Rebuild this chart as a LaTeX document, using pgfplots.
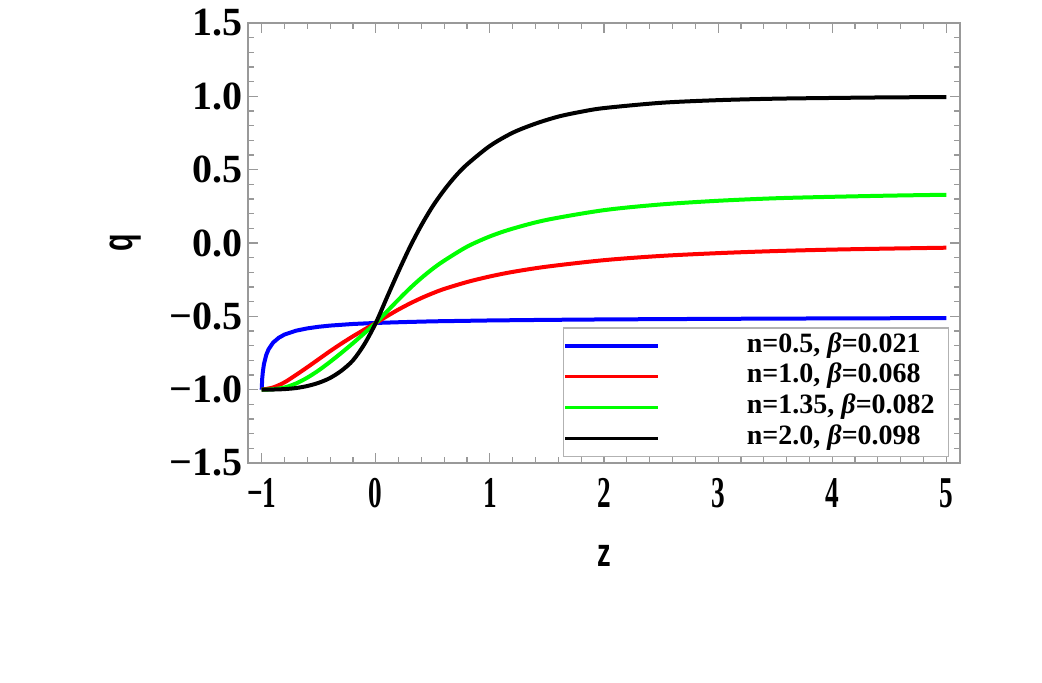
\documentclass[border=0pt]{standalone}
\usepackage{fontspec}
\setmainfont{Liberation Serif}
\newfontfamily\labelsans{Liberation Sans}
\usepackage{graphicx}
\usepackage{pgfplots}
\pgfplotsset{compat=1.18}

% deceleration parameter q(z) for the four (n, beta) cases
\pgfplotstableread{
z q
-1.000 -1.000
-0.995 -0.920
-0.990 -0.879
-0.980 -0.825
-0.960 -0.763
-0.940 -0.725
-0.900 -0.679
-0.850 -0.646
-0.800 -0.624
-0.700 -0.598
-0.600 -0.582
-0.500 -0.571
-0.400 -0.563
-0.200 -0.552
0.000 -0.545
0.250 -0.539
0.500 -0.534
1.000 -0.528
1.500 -0.524
2.000 -0.521
3.000 -0.517
4.000 -0.514
5.000 -0.512
}\qblue

\pgfplotstableread{
z q
-1.0 -1.000
-0.9 -0.985
-0.8 -0.950
-0.7 -0.900
-0.6 -0.847
-0.5 -0.792
-0.4 -0.737
-0.3 -0.685
-0.2 -0.636
-0.1 -0.590
0.0 -0.545
0.1 -0.498
0.2 -0.453
0.3 -0.412
0.4 -0.375
0.5 -0.342
0.6 -0.313
0.8 -0.266
1.0 -0.228
1.2 -0.197
1.5 -0.161
2.0 -0.117
2.5 -0.088
3.0 -0.069
3.5 -0.055
4.0 -0.045
4.5 -0.038
5.0 -0.032
}\qred

\pgfplotstableread{
z q
-1.0 -1.000
-0.9 -0.997
-0.8 -0.985
-0.7 -0.958
-0.6 -0.918
-0.5 -0.868
-0.4 -0.810
-0.3 -0.748
-0.2 -0.683
-0.1 -0.615
0.0 -0.545
0.1 -0.465
0.2 -0.385
0.3 -0.308
0.4 -0.238
0.5 -0.175
0.6 -0.120
0.8 -0.025
1.0 0.045
1.2 0.098
1.5 0.158
2.0 0.224
2.5 0.263
3.0 0.288
3.5 0.305
4.0 0.315
4.5 0.323
5.0 0.329
}\qgreen

\pgfplotstableread{
z q
-1.0 -1.000
-0.9 -0.999
-0.8 -0.996
-0.7 -0.989
-0.6 -0.975
-0.5 -0.953
-0.4 -0.920
-0.3 -0.870
-0.2 -0.800
-0.1 -0.690
0.0 -0.545
0.1 -0.367
0.2 -0.192
0.3 -0.026
0.4 0.122
0.5 0.252
0.6 0.362
0.7 0.457
0.8 0.536
1.0 0.662
1.2 0.752
1.4 0.814
1.6 0.862
1.8 0.895
2.0 0.920
2.5 0.956
3.0 0.974
3.5 0.984
4.0 0.989
4.5 0.993
5.0 0.995
}\qblack

\newcommand\xt[1]{\scalebox{0.62}[1]{#1}}
\newcommand\lgap{\hspace*{43.5pt}}

\begin{document}
\begin{tikzpicture}
\useasboundingbox (-124pt,-109.5pt) rectangle (397pt,231.5pt);
\begin{axis}[
  at={(0pt,0pt)}, anchor=south west,
  scale only axis, width=356pt, height=220pt,
  xmin=-1.12, xmax=5.12, ymin=-1.5, ymax=1.5,
  xtick={-1,0,1,2,3,4,5},
  ytick={-1.5,-1,-0.5,0,0.5,1,1.5},
  xticklabels={\xt{−1},\xt{0},\xt{1},\xt{2},\xt{3},\xt{4},\xt{5}},
  yticklabels={−1.5,−1.0,−0.5,0.0,0.5,1.0,1.5},
  minor x tick num=4, minor y tick num=4,
  tick align=inside,
  major tick length=5pt, minor tick length=3pt,
  every tick/.style={gray!80, line width=0.6pt},
  axis line style={gray!80, line width=0.7pt},
  xticklabel style={font=\bfseries\fontsize{22}{22}\selectfont, anchor=north, inner ysep=0pt, yshift=-7.5pt},
  yticklabel style={font=\bfseries\fontsize{20}{20}\selectfont, anchor=east, inner xsep=0pt, xshift=-2.5pt},
  xlabel={\scalebox{0.68}[1]{\labelsans\bfseries\fontsize{20}{20}\selectfont z}},
  ylabel={\scalebox{0.68}[1]{\labelsans\bfseries\fontsize{21}{21}\selectfont q}},
  xlabel style={at={(axis description cs:0.5,-0.2114)}, anchor=center, inner sep=0pt},
  ylabel style={at={(axis description cs:-0.1720,0.5)}, anchor=center, inner sep=0pt},
  legend cell align=left,
  legend image code/.code={\draw[#1, line width=1.6pt] (0pt,0pt) -- (46.5pt,0pt);},
  legend style={at={(0.985,0.0136)}, anchor=south east, draw=gray!60, line width=0.6pt, fill=white,
    inner xsep=0pt, inner ysep=3pt, row sep=3.4pt,
    font=\bfseries\fontsize{14}{14}\selectfont,
    nodes={inner xsep=0pt, inner ysep=0pt, text height=9pt, text depth=3pt}},
]
\addplot[blue, line width=2pt] table {\qblue};
\addlegendentry{\lgap n=0.5, {\itshape β}=0.021\hspace*{7pt}}
\addplot[red, line width=2pt, smooth] table {\qred};
\addlegendentry{\lgap n=1.0, {\itshape β}=0.068\hspace*{7pt}}
\addplot[green, line width=2pt, smooth] table {\qgreen};
\addlegendentry{\lgap n=1.35, {\itshape β}=0.082\hspace*{7pt}}
\addplot[black, line width=2pt, smooth] table {\qblack};
\addlegendentry{\lgap n=2.0, {\itshape β}=0.098\hspace*{7pt}}
\end{axis}
\end{tikzpicture}
\end{document}
